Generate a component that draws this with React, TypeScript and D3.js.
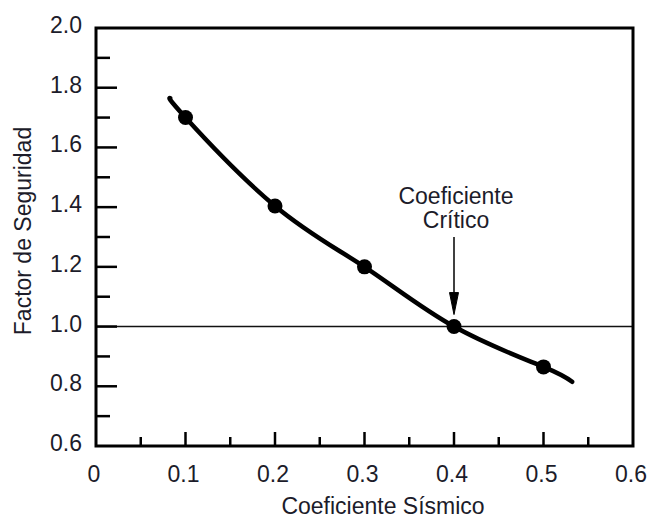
import React from "react";
import * as d3 from "d3";

const xTicks = [0, 0.1, 0.2, 0.3, 0.4, 0.5, 0.6];
const xMinorTicks = [0.05, 0.15, 0.25, 0.35, 0.45, 0.55];
const yTicks = [0.6, 0.8, 1.0, 1.2, 1.4, 1.6, 1.8, 2.0];
const yMinorTicks = [0.7, 0.9, 1.1, 1.3, 1.5, 1.7, 1.9];

const pointX = [0.1, 0.2, 0.3, 0.4, 0.5];
const pointY = [1.7, 1.404, 1.2, 1.0, 0.865];

const curveX = [0.083, 0.1, 0.2, 0.3, 0.4, 0.5, 0.532];
const curveY = [1.765, 1.7, 1.404, 1.2, 1.0, 0.865, 0.815];

const referenceY = 1.0;
const criticalX = 0.4;

const xLabel = "Coeficiente Sísmico";
const yLabel = "Factor de Seguridad";
const annotation = ["Coeficiente", "Crítico"];

const W = 652;
const H = 519;
const left = 96;
const right = 633;
const top = 28;
const bottom = 446;

export default function App() {
  const x = d3.scaleLinear().domain([0, 0.6]).range([left, right]);
  const y = d3.scaleLinear().domain([0.6, 2.0]).range([bottom, top]);

  const line = d3
    .line<[number, number]>()
    .x((d) => x(d[0]))
    .y((d) => y(d[1]))
    .curve(d3.curveNatural);
  const curveData: [number, number][] = curveX.map((v, i) => [v, curveY[i]]);

  const font = "'Liberation Sans', Arial, Helvetica, sans-serif";
  const fs = 23;
  const textColor = "#1c1c2a";

  const ax = x(criticalX);
  const arrowTop = 237;
  const arrowTip = y(referenceY) - 12;

  return (
    <svg
      width={W}
      height={H}
      style={{ position: "absolute", left: 0, top: 0, background: "#fff" }}
      fontFamily={font}
    >
      <rect x={0} y={0} width={W} height={H} fill="#fff" />
      {/* reference line at 1.0 */}
      <line
        x1={left}
        x2={right}
        y1={y(referenceY)}
        y2={y(referenceY)}
        stroke="#111"
        strokeWidth={1.5}
      />
      {/* y ticks */}
      {yTicks
        .filter((t) => t > 0.6 && t < 2.0)
        .map((t) => (
          <line key={"ym" + t} x1={left} x2={left + 21} y1={y(t)} y2={y(t)} stroke="#000" strokeWidth={2.5} />
        ))}
      {yMinorTicks.map((t) => (
        <line key={"yn" + t} x1={left} x2={left + 14} y1={y(t)} y2={y(t)} stroke="#000" strokeWidth={2.5} />
      ))}
      {/* x ticks */}
      {xTicks
        .filter((t) => t > 0 && t < 0.6)
        .map((t) => (
          <line key={"xm" + t} x1={x(t)} x2={x(t)} y1={bottom} y2={bottom - 14} stroke="#000" strokeWidth={2.5} />
        ))}
      {xMinorTicks.map((t) => (
        <line key={"xn" + t} x1={x(t)} x2={x(t)} y1={bottom} y2={bottom - 9} stroke="#000" strokeWidth={2.5} />
      ))}
      {/* frame */}
      <rect
        x={left}
        y={top}
        width={right - left}
        height={bottom - top}
        fill="none"
        stroke="#000"
        strokeWidth={3}
      />
      {/* curve */}
      <path d={line(curveData) || ""} fill="none" stroke="#000" strokeWidth={4.5} strokeLinecap="round" />
      {pointX.map((v, i) => (
        <circle key={"p" + i} cx={x(v)} cy={y(pointY[i])} r={7.5} fill="#000" />
      ))}
      {/* arrow */}
      <line x1={ax} x2={ax} y1={arrowTop} y2={arrowTip - 18} stroke="#000" strokeWidth={1.5} />
      <path
        d={`M${ax - 4.5},${arrowTip - 22} L${ax + 4.5},${arrowTip - 22} L${ax},${arrowTip} Z`}
        fill="#000"
        stroke="#000"
        strokeWidth={1}
      />
      {annotation.map((s, i) => (
        <text key={"a" + i} x={ax + 2} y={204 + i * 24} textAnchor="middle" fontSize={fs} fill={textColor}>
          {s}
        </text>
      ))}
      {/* y tick labels */}
      {yTicks.map((t) => (
        <text key={"yl" + t} x={82} y={y(t) + 5} textAnchor="end" fontSize={fs} fill={textColor}>
          {t.toFixed(1)}
        </text>
      ))}
      {/* x tick labels */}
      {xTicks.map((t) => (
        <text key={"xl" + t} x={x(t) - 2} y={482} textAnchor="middle" fontSize={fs} fill={textColor}>
          {t === 0 ? "0" : t.toFixed(1)}
        </text>
      ))}
      <text x={383} y={514} textAnchor="middle" fontSize={fs} fill={textColor}>
        {xLabel}
      </text>
      <text
        transform={`translate(31,231) rotate(-90)`}
        textAnchor="middle"
        fontSize={fs}
        fill={textColor}
      >
        {yLabel}
      </text>
    </svg>
  );
}
